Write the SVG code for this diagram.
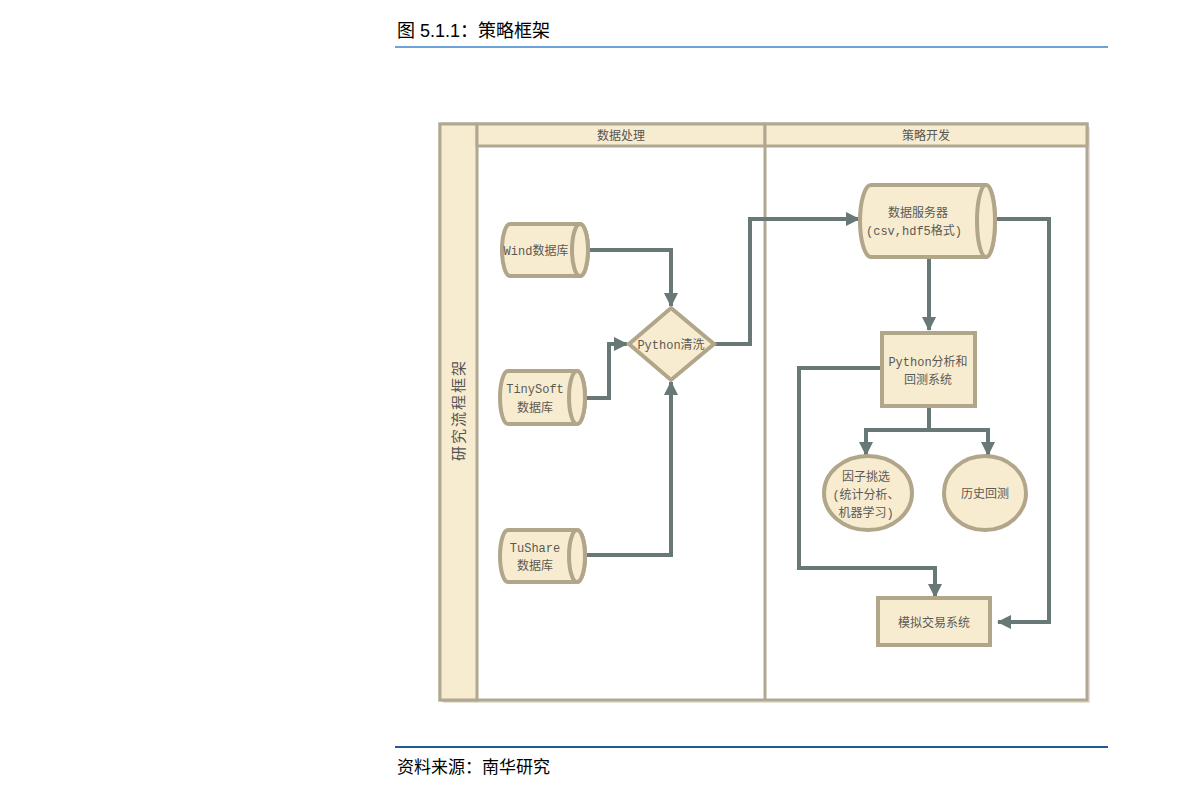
<svg xmlns="http://www.w3.org/2000/svg" width="1191" height="795" viewBox="0 0 1191 795">
<defs>
<style>
.frame{fill:#fff;stroke:#b1a891;stroke-width:3}
.cream{fill:#f8ecd0;stroke:#b1a891;stroke-width:3}
.node{fill:#f8ecd0;stroke:#b1a68a;stroke-width:4}
.conn{fill:none;stroke:#687877;stroke-width:4;stroke-linejoin:miter}
.t{font-family:"Liberation Mono","Noto Sans CJK SC",monospace;font-size:12px;fill:#5a5a55;text-anchor:middle}
.th{font-family:"Noto Sans CJK SC",sans-serif;font-size:12px;fill:#555;text-anchor:middle}
.cap{font-family:"Liberation Sans","Noto Sans CJK SC",sans-serif;font-size:18px;fill:#000}
</style>
<marker id="ah" markerWidth="14" markerHeight="14" refX="13" refY="7" orient="auto" markerUnits="userSpaceOnUse">
<path d="M0,0 L14,7 L0,14 Z" fill="#687877"/>
</marker>
</defs>
<rect width="1191" height="795" fill="#fff"/>
<text class="cap" x="397" y="37">图 5.1.1：策略框架</text>
<line x1="395" y1="47" x2="1108" y2="47" stroke="#6ea3d8" stroke-width="2"/>
<line x1="395" y1="747" x2="1108" y2="747" stroke="#1f5a96" stroke-width="1.5" shape-rendering="crispEdges"/>
<text class="cap" x="397" y="773" style="font-size:17px">资料来源：南华研究</text>

<g id="pool">
<rect x="443" y="127" width="647" height="576" fill="#c9c3b4" opacity="0.5"/>
<rect x="440" y="124" width="647" height="576" class="frame"/>
<rect x="440" y="124" width="37" height="576" class="cream"/>
<rect x="477" y="124" width="288" height="22" class="cream"/>
<rect x="765" y="124" width="322" height="22" class="cream"/>
<line x1="765" y1="146" x2="765" y2="700" stroke="#b1a891" stroke-width="3"/>
<text class="th" x="621" y="140">数据处理</text>
<text class="th" x="926" y="140">策略开发</text>
<text class="th" transform="translate(464,410) rotate(-90)" style="font-size:15px;letter-spacing:2px">研究流程框架</text>
</g>

<g id="connectors">
<path class="conn" d="M588,250 H671 V306" marker-end="url(#ah)"/>
<path class="conn" d="M585,398 H609 V344 H627" marker-end="url(#ah)"/>
<path class="conn" d="M585,555 H671 V382" marker-end="url(#ah)"/>
<path class="conn" d="M714,344 H750 V219 H859" marker-end="url(#ah)"/>
<path class="conn" d="M995,219 H1049 V622 H998" marker-end="url(#ah)"/>
<path class="conn" d="M929,258 V330" marker-end="url(#ah)"/>
<path class="conn" d="M929,407 V430 H866 V455" marker-end="url(#ah)"/>
<path class="conn" d="M929,430 H988 V455" marker-end="url(#ah)"/>
<path class="conn" d="M881,368 H799 V568 H935 V597" marker-end="url(#ah)"/>
</g>

<g id="wind">
<path class="node" d="M510,224 H580 A8,26 0 0 1 580,276 H510 A8,26 0 0 1 510,224 Z"/>
<ellipse class="node" cx="580" cy="250" rx="8" ry="26"/>
<text class="t" x="536" y="255">Wind数据库</text>
</g>
<g id="tinysoft">
<path class="node" d="M508,371 H577 A8,26.5 0 0 1 577,424 H508 A8,26.5 0 0 1 508,371 Z"/>
<ellipse class="node" cx="577" cy="397.5" rx="8" ry="26.5"/>
<text class="t" x="535" y="393">TinySoft</text>
<text class="t" x="535" y="412">数据库</text>
</g>
<g id="tushare">
<path class="node" d="M508,530 H577 A8,26 0 0 1 577,582 H508 A8,26 0 0 1 508,530 Z"/>
<ellipse class="node" cx="577" cy="556" rx="8" ry="26"/>
<text class="t" x="535" y="552">TuShare</text>
<text class="t" x="535" y="570">数据库</text>
</g>
<g id="clean">
<path class="node" d="M671,308 L714,344 L671,380 L629,344 Z"/>
<text class="t" x="671" y="349">Python清洗</text>
</g>
<g id="server">
<path class="node" d="M871,185 H986 A9,36 0 0 1 986,257 H871 A11,36 0 0 1 871,185 Z"/>
<ellipse class="node" cx="986" cy="221" rx="9" ry="36"/>
<text class="t" x="918" y="217">数据服务器</text>
<text class="t" x="914" y="235">(csv,hdf5格式)</text>
</g>
<g id="analysis">
<rect class="node" x="882" y="333" width="93" height="73"/>
<text class="t" x="928" y="366">Python分析和</text>
<text class="t" x="928" y="384">回测系统</text>
</g>
<g id="factor">
<ellipse class="node" cx="868" cy="493" rx="44" ry="37"/>
<text class="t" x="866" y="481">因子挑选</text>
<text class="t" x="866" y="499">(统计分析、</text>
<text class="t" x="866" y="517">机器学习)</text>
</g>
<g id="backtest">
<ellipse class="node" cx="985" cy="493" rx="41" ry="37"/>
<text class="t" x="985" y="498">历史回测</text>
</g>
<g id="trade">
<rect class="node" x="878" y="598" width="112" height="47"/>
<text class="t" x="934" y="627">模拟交易系统</text>
</g>
</svg>
